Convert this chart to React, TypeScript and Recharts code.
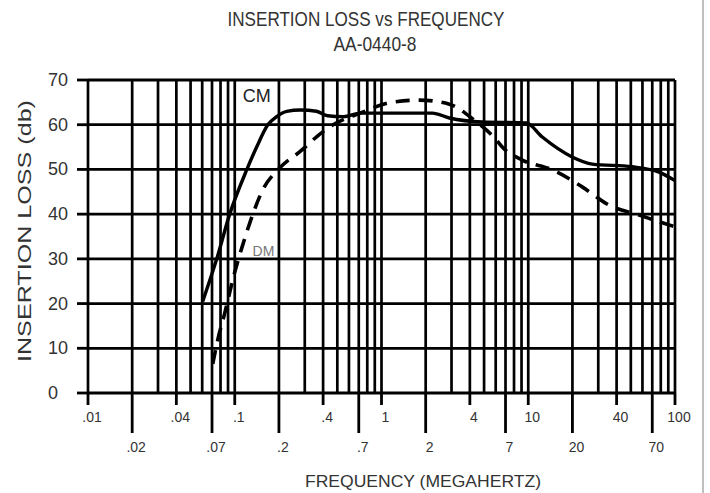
import React from 'react';
import { LineChart, Line, XAxis, YAxis, CartesianGrid, ReferenceLine, ReferenceDot } from 'recharts';

// CM (common mode) curve
const cmFreq = [0.0605, 0.0754, 0.0924, 0.121, 0.141, 0.168, 0.193, 0.226, 0.28, 0.36, 0.43, 0.55, 0.72, 1.0, 2.22, 2.9, 4.87, 9.69, 12.4, 19.9, 27.3, 51, 77.8, 100];
const cmLoss = [20.5, 30, 40, 50, 55, 60, 61.8, 63, 63.3, 63, 62, 61.8, 62.6, 62.6, 62.6, 61.5, 60.6, 60.4, 57.3, 52.8, 51.2, 50.6, 49.4, 47.5];

// DM (differential mode) curve
const dmFreq = [0.0708, 0.0766, 0.0855, 0.1, 0.1116, 0.1265, 0.155, 0.202, 0.286, 0.361, 0.443, 0.743, 1.13, 1.81, 2.9, 4.29, 6.06, 6.65, 9.1, 14.6, 23.3, 35.6, 56.9, 91, 100];
const dmLoss = [6.5, 11.9, 17.9, 27, 32.4, 38, 45.4, 50.3, 54.3, 57.3, 59.5, 62.8, 64.9, 65.5, 64.6, 61, 56.6, 55, 52.1, 49.9, 46.1, 42, 39.8, 37.6, 37.2];

const xTicks = [0.01, 0.02, 0.04, 0.07, 0.1, 0.2, 0.4, 0.7, 1, 2, 4, 7, 10, 20, 40, 70, 100];
const xTickLabels = ['.01', '.02', '.04', '.07', '.1', '.2', '.4', '.7', '1', '2', '4', '7', '10', '20', '40', '70', '100'];
const yTicks = [0, 10, 20, 30, 40, 50, 60, 70];
const decades = [0.01, 0.1, 1, 10];
const multiples = [1, 2, 3, 4, 5, 6, 7, 8, 9];

const gridFreqs = [...decades.flatMap((d) => multiples.map((m) => Number((m * d).toPrecision(3)))), 100];

const cmData = cmFreq.map((f, i) => ({ f, loss: cmLoss[i] }));
const dmData = dmFreq.map((f, i) => ({ f, loss: dmLoss[i] }));

const FONT = 'Liberation Sans, Arial, sans-serif';
const TEXT = '#333';

const FreqTick = (props: any) => {
  const { x, y, index } = props;
  const top = index % 2 === 0;
  return (
    <g>
      <line x1={x} x2={x} y1={y} y2={y + (top ? 12 : 40)} stroke="#000" strokeWidth={2.8} />
      <text x={x + 4} y={y + (top ? 29 : 59)} textAnchor="middle" fontSize={14} fill={TEXT} fontFamily={FONT}>
        {xTickLabels[index]}
      </text>
    </g>
  );
};

const LossTick = (props: any) => {
  const { y, payload } = props;
  return (
    <text x={48} y={y} dy={6} textAnchor="start" fontSize={18} fill={TEXT} fontFamily={FONT}>
      {payload.value}
    </text>
  );
};

const App = () => {
  return (
    <div style={{ position: 'absolute', left: 0, top: 0, width: 710, height: 493, background: '#fff' }}>
      <LineChart width={710} height={493} data={cmData} margin={{ top: 80, right: 35, bottom: 40, left: 18 }}>
        <CartesianGrid vertical={false} stroke="#000" strokeWidth={2.8} />
        {gridFreqs.map((f) => (
          <ReferenceLine key={f} x={f} stroke="#000" strokeWidth={2.7} />
        ))}
        <XAxis
          dataKey="f"
          type="number"
          scale="log"
          domain={[0.01, 100]}
          ticks={xTicks}
          interval={0}
          allowDataOverflow
          axisLine={false}
          tickLine={false}
          tickSize={0}
          tickMargin={0}
          height={60}
          tick={<FreqTick />}
        />
        <YAxis
          type="number"
          domain={[0, 70]}
          ticks={yTicks}
          interval={0}
          width={70}
          axisLine={false}
          tickSize={11}
          tickLine={{ stroke: '#000', strokeWidth: 2.8 }}
          tick={<LossTick />}
        />
        <Line data={cmData} dataKey="loss" type="monotone" stroke="#000" strokeWidth={3.4} dot={false} isAnimationActive={false} />
        <Line data={dmData} dataKey="loss" type="monotone" stroke="#000" strokeWidth={3.6} strokeDasharray="14 9" dot={false} isAnimationActive={false} />
        <ReferenceDot x={0.141} y={66.4} r={0} fill="none" stroke="none" label={{ value: 'CM', position: 'center', fontSize: 18, fill: '#222', fontFamily: FONT }} />
        <ReferenceDot x={0.157} y={31.8} r={0} fill="none" stroke="none" label={{ value: 'DM', position: 'center', fontSize: 14, fill: '#777', fontFamily: FONT }} />
      </LineChart>
      <svg width={710} height={493} style={{ position: 'absolute', left: 0, top: 0, pointerEvents: 'none' }}>
        <text x={366} y={26} textAnchor="middle" fontSize={21} fill={TEXT} fontFamily={FONT} textLength={277} lengthAdjust="spacingAndGlyphs">
          INSERTION LOSS vs FREQUENCY
        </text>
        <text x={375} y={51} textAnchor="middle" fontSize={20} fill={TEXT} fontFamily={FONT} textLength={83} lengthAdjust="spacingAndGlyphs">
          AA-0440-8
        </text>
        <text x={305} y={487} fontSize={16} fill={TEXT} fontFamily={FONT} textLength={236} lengthAdjust="spacingAndGlyphs">
          FREQUENCY (MEGAHERTZ)
        </text>
        <text x={31} y={231} textAnchor="middle" fontSize={19} fill={TEXT} fontFamily={FONT} textLength={262} lengthAdjust="spacingAndGlyphs" transform="rotate(-90, 31, 231)">
          INSERTION LOSS (db)
        </text>
        <line x1={703} x2={703} y1={0} y2={493} stroke="#aaa" strokeWidth={1.5} />
      </svg>
    </div>
  );
};

export default App;
